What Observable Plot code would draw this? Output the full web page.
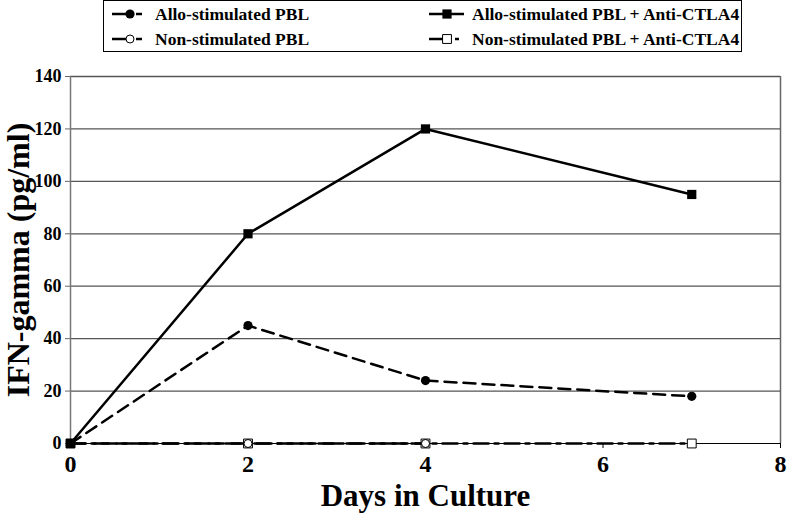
<!DOCTYPE html>
<html>
<head>
<meta charset="utf-8">
<script src="https://cdn.jsdelivr.net/npm/d3@7"></script>
<script src="https://cdn.jsdelivr.net/npm/@observablehq/plot@0.6"></script>
<style>
  html, body { margin: 0; padding: 0; background: #fff; }
  #wrap { position: relative; width: 787px; height: 514px; font-family: 'Liberation Serif', 'Times New Roman', Times, serif; }
  #legend { position: absolute; left: 103px; top: 0px; width: 639px; height: 52px; border: 1px solid #000; box-sizing: border-box; background: #fff; }
  .item { position: absolute; display: flex; align-items: center; font-weight: bold; font-size: 17.5px; color: #000; white-space: nowrap; font-family: 'Liberation Serif', 'Times New Roman', Times, serif; }
  .item svg { display: block; margin-right: 4px; }
  #chart { position: absolute; left: 0; top: 0; }
  #chart svg text { font-family: 'Liberation Serif', 'Times New Roman', Times, serif; }
</style>
</head>
<body>
<div id="wrap">
  <div id="chart"></div>
  <div id="legend"></div>
</div>
<script>
// ---- data ----
const days = [0, 2, 4, 7];
const nonStimDays = [0, 2, 4];
const alloPBL = [0, 45, 24, 18];
const alloPBLAnti = [0, 80, 120, 95];
const nonStimPBL = [0, 0, 0];
const nonStimPBLAnti = [0, 0, 0, 0];
const seriesNames = [
  "Allo-stimulated PBL",
  "Allo-stimulated PBL + Anti-CTLA4",
  "Non-stimulated PBL",
  "Non-stimulated PBL + Anti-CTLA4"
];
const yTicks = [0, 20, 40, 60, 80, 100, 120, 140];
const xTicks = [0, 2, 4, 6, 8];

const toRows = (xs, ys, name) => xs.map((d, i) => ({day: d, value: ys[i], series: name}));
const rAllo = toRows(days, alloPBL, seriesNames[0]);
const rAlloAnti = toRows(days, alloPBLAnti, seriesNames[1]);
const rNon = toRows(nonStimDays, nonStimPBL, seriesNames[2]);
const rNonAnti = toRows(days, nonStimPBLAnti, seriesNames[3]);

const styles = {
  [seriesNames[0]]: {dash: "12,7", symbol: "circle", fill: "#000", r: 4.6},
  [seriesNames[1]]: {dash: null, symbol: "square", fill: "#000", r: 5.2},
  [seriesNames[2]]: {dash: "15,8", symbol: "circle", fill: "none", r: 4},
  [seriesNames[3]]: {dash: "15,6,4,6", symbol: "square", fill: "#fff", r: 5}
};

const font = "'Liberation Serif', 'Times New Roman', Times, serif";

const chart = Plot.plot({
  width: 787,
  height: 514,
  marginTop: 76,
  marginBottom: 71,
  marginLeft: 70,
  marginRight: 7,
  style: {fontFamily: font, background: "transparent"},
  x: {domain: [0, 8]},
  y: {domain: [0, 140]},
  marks: [
    Plot.ruleY(yTicks.filter(d => d > 0), {stroke: "#555", strokeWidth: 1.3}),
    Plot.ruleX([8], {stroke: "#666", strokeWidth: 1.5}),
    Plot.axisY({ticks: yTicks, tickSize: 5, tickPadding: 4, stroke: "#666", fontSize: 18, fontWeight: "bold", label: null}),
    Plot.axisX({ticks: xTicks, tickSize: 5, tickPadding: 6, fontSize: 24, fontWeight: "bold", label: null}),
    Plot.ruleX([0], {stroke: "#777", strokeWidth: 1.5}),
    Plot.ruleY([0], {stroke: "#000", strokeWidth: 1.2}),
    Plot.line(rNonAnti, {x: "day", y: "value", stroke: "#000", strokeWidth: 2.5, strokeDasharray: styles[seriesNames[3]].dash}),
    Plot.line(rNon, {x: "day", y: "value", stroke: "#000", strokeWidth: 2.5, strokeDasharray: styles[seriesNames[2]].dash}),
    Plot.line(rAllo, {x: "day", y: "value", stroke: "#000", strokeWidth: 2.5, strokeDasharray: styles[seriesNames[0]].dash}),
    Plot.line(rAlloAnti, {x: "day", y: "value", stroke: "#000", strokeWidth: 2.5}),
    Plot.dot(rNonAnti, {x: "day", y: "value", symbol: "square", r: 5, fill: "#fff", stroke: "#000", strokeWidth: 1}),
    Plot.dot(rNon, {x: "day", y: "value", symbol: "circle", r: 4, fill: "none", stroke: "#000", strokeWidth: 1}),
    Plot.dot(rAllo, {x: "day", y: "value", symbol: "circle", r: 4.6, fill: "#000", stroke: "none"}),
    Plot.dot(rAlloAnti, {x: "day", y: "value", symbol: "square", r: 5.2, fill: "#000", stroke: "none"}),
    Plot.text(["Days in Culture"], {frameAnchor: "bottom", lineAnchor: "middle", textAnchor: "middle", dy: 53, fontSize: 31, fontWeight: "bold", fill: "#000"}),
    Plot.text(["IFN-gamma (pg/ml)"], {frameAnchor: "left", lineAnchor: "middle", textAnchor: "middle", dx: -52, rotate: -90, fontSize: 32, fontWeight: "bold", fill: "#000"})
  ]
});
document.getElementById("chart").appendChild(chart);

// ---- legend ----
const legend = document.getElementById("legend");
const positions = [
  {left: 7, top: 2},
  {left: 324, top: 2},
  {left: 7, top: 27},
  {left: 324, top: 27}
];
[0, 1, 2, 3].forEach((k, i) => {
  const name = seriesNames[k];
  const st = styles[name];
  const div = document.createElement("div");
  div.className = "item";
  div.style.left = positions[i].left + "px";
  div.style.top = positions[i].top + "px";
  div.style.height = "22px";
  const svg = d3.create("svg").attr("width", 40).attr("height", 22);
  const dash = k === 0 || k === 2 ? "18,6,6" : (k === 3 ? "18,8,4" : null);
  svg.append("line").attr("x1", 1).attr("x2", 36).attr("y1", 11).attr("y2", 11)
    .attr("stroke", "#000").attr("stroke-width", 2.5).attr("stroke-dasharray", dash);
  const sym = st.symbol === "circle" ? d3.symbolCircle : d3.symbolSquare;
  svg.append("path").attr("transform", "translate(19,11)")
    .attr("d", d3.symbol(sym, Math.PI * st.r * st.r)())
    .attr("fill", st.fill === "none" ? "#fff" : st.fill)
    .attr("stroke", st.fill === "#000" ? "none" : "#000").attr("stroke-width", 1);
  div.appendChild(svg.node());
  const span = document.createElement("span");
  span.textContent = name;
  div.appendChild(span);
  legend.appendChild(div);
});
</script>
</body>
</html>
